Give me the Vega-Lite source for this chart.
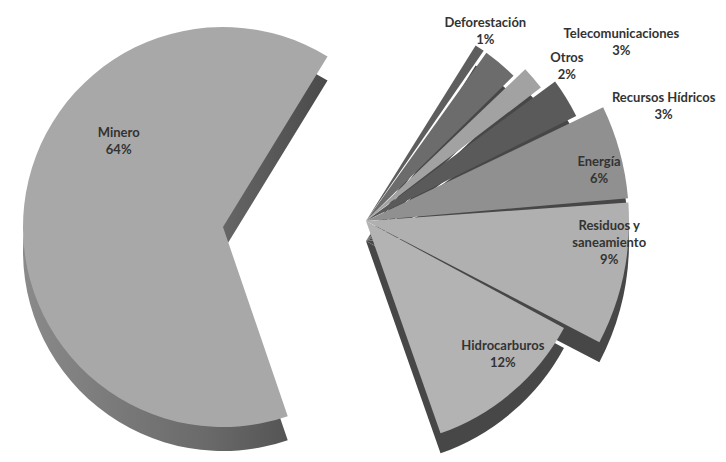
{
  "$schema": "https://vega.github.io/schema/vega-lite/v6.json",
  "width": 726,
  "height": 462,
  "autosize": {"type": "fit", "contains": "padding"},
  "padding": 0,
  "background": "white",
  "config": {
    "view": {"stroke": null},
    "text": {"font": "Lato", "fontWeight": "bold", "fontSize": 13, "color": "#333333", "lineBreak": "|", "lineHeight": 17}
  },
  "data": {
    "values": [
      {"sector": "Deforestación", "valor": 1, "orden": 1},
      {"sector": "Telecomunicaciones", "valor": 3, "orden": 2},
      {"sector": "Otros", "valor": 2, "orden": 3},
      {"sector": "Recursos Hídricos", "valor": 3, "orden": 4},
      {"sector": "Energía", "valor": 6, "orden": 5},
      {"sector": "Residuos y saneamiento", "valor": 9, "orden": 6},
      {"sector": "Hidrocarburos", "valor": 12, "orden": 7},
      {"sector": "Minero", "valor": 64, "orden": 8}
    ]
  },
  "transform": [
    {"calculate": "replace(datum.sector, ' y ', ' y|') + '|' + datum.valor + '%'", "as": "etiqueta"}
  ],
  "encoding": {
    "theta": {"field": "valor", "type": "quantitative", "stack": true, "scale": {"range": [0.55, 6.8332]}},
    "order": {"field": "orden", "type": "quantitative"}
  },
  "layer": [
    {
      "mark": {
        "type": "arc", "outerRadius": 200, "xOffset": -131, "yOffset": 24,
        "color": {"gradient": "linear", "x1": 0, "x2": 1, "y1": 0, "y2": 0, "stops": [{"offset": 0, "color": "#8a8a8a"}, {"offset": 0.6, "color": "#6a6a6a"}, {"offset": 1, "color": "#4a4a4a"}]}
      },
      "encoding": {"opacity": {"condition": {"test": "datum.sector === 'Minero'", "value": 1}, "value": 0}}
    },
    {
      "mark": {"type": "arc", "outerRadius": 207, "xOffset": 12, "yOffset": 14, "padAngle": 0.016, "color": "#474747"},
      "encoding": {"opacity": {"condition": {"test": "indexof(['Deforestación', 'Telecomunicaciones'], datum.sector) >= 0", "value": 1}, "value": 0}}
    },
    {
      "mark": {"type": "arc", "outerRadius": 220, "xOffset": 12, "yOffset": 14, "padAngle": 0.016, "color": "#474747"},
      "encoding": {"opacity": {"condition": {"test": "datum.sector === 'Otros'", "value": 1}, "value": 0}}
    },
    {
      "mark": {"type": "arc", "outerRadius": 235, "xOffset": 12, "yOffset": 14, "padAngle": 0.016, "color": "#474747"},
      "encoding": {"opacity": {"condition": {"test": "datum.sector === 'Recursos Hídricos'", "value": 1}, "value": 0}}
    },
    {
      "mark": {"type": "arc", "outerRadius": 263, "xOffset": 12, "yOffset": 14, "padAngle": 0.016, "color": "#474747"},
      "encoding": {"opacity": {"condition": {"test": "indexof(['Energía', 'Residuos y saneamiento'], datum.sector) >= 0", "value": 1}, "value": 0}}
    },
    {
      "mark": {"type": "arc", "outerRadius": 225, "xOffset": 12, "yOffset": 14, "padAngle": 0.016, "color": "#474747"},
      "encoding": {"opacity": {"condition": {"test": "datum.sector === 'Hidrocarburos'", "value": 1}, "value": 0}}
    },
    {
      "mark": {"type": "arc", "outerRadius": 200, "xOffset": -131},
      "encoding": {
        "color": {
          "field": "sector", "type": "nominal", "legend": null,
          "scale": {
            "domain": ["Deforestación", "Telecomunicaciones", "Otros", "Recursos Hídricos", "Energía", "Residuos y saneamiento", "Hidrocarburos", "Minero"],
            "range": ["#5e5e5e", "#6c6c6c", "#a2a2a2", "#5a5a5a", "#909090", "#b0b0b0", "#b3b3b3", "#a8a8a8"]
          }
        },
        "opacity": {"condition": {"test": "datum.sector === 'Minero'", "value": 1}, "value": 0}
      }
    },
    {
      "mark": {"type": "arc", "outerRadius": 207, "xOffset": 12, "yOffset": -6, "padAngle": 0.016},
      "encoding": {
        "color": {"field": "sector", "type": "nominal", "legend": null},
        "opacity": {"condition": {"test": "indexof(['Deforestación', 'Telecomunicaciones'], datum.sector) >= 0", "value": 1}, "value": 0}
      }
    },
    {
      "mark": {"type": "arc", "outerRadius": 220, "xOffset": 12, "yOffset": -6, "padAngle": 0.016},
      "encoding": {
        "color": {"field": "sector", "type": "nominal", "legend": null},
        "opacity": {"condition": {"test": "datum.sector === 'Otros'", "value": 1}, "value": 0}
      }
    },
    {
      "mark": {"type": "arc", "outerRadius": 235, "xOffset": 12, "yOffset": -6, "padAngle": 0.016},
      "encoding": {
        "color": {"field": "sector", "type": "nominal", "legend": null},
        "opacity": {"condition": {"test": "datum.sector === 'Recursos Hídricos'", "value": 1}, "value": 0}
      }
    },
    {
      "mark": {"type": "arc", "outerRadius": 263, "xOffset": 12, "yOffset": -6, "padAngle": 0.016},
      "encoding": {
        "color": {"field": "sector", "type": "nominal", "legend": null},
        "opacity": {"condition": {"test": "indexof(['Energía', 'Residuos y saneamiento'], datum.sector) >= 0", "value": 1}, "value": 0}
      }
    },
    {
      "mark": {"type": "arc", "outerRadius": 225, "xOffset": 12, "yOffset": -6, "padAngle": 0.016},
      "encoding": {
        "color": {"field": "sector", "type": "nominal", "legend": null},
        "opacity": {"condition": {"test": "datum.sector === 'Hidrocarburos'", "value": 1}, "value": 0}
      }
    },
    {
      "mark": {"type": "text", "radius": 110, "xOffset": -131, "dx": 5, "dy": -82},
      "encoding": {
        "text": {"field": "etiqueta"},
        "opacity": {"condition": {"test": "datum.sector === 'Minero'", "value": 1}, "value": 0}
      }
    },
    {
      "mark": {"type": "text", "radius": 225, "xOffset": 12, "yOffset": -6, "dx": 16, "dy": 0},
      "encoding": {
        "text": {"field": "etiqueta"},
        "opacity": {"condition": {"test": "datum.sector === 'Energía'", "value": 1}, "value": 0}
      }
    },
    {
      "mark": {"type": "text", "radius": 230, "xOffset": 12, "yOffset": -6, "dx": 18, "dy": -42},
      "encoding": {
        "text": {"field": "etiqueta"},
        "opacity": {"condition": {"test": "datum.sector === 'Residuos y saneamiento'", "value": 1}, "value": 0}
      }
    },
    {
      "mark": {"type": "text", "radius": 180, "xOffset": 12, "yOffset": -6, "dx": 20, "dy": -12},
      "encoding": {
        "text": {"field": "etiqueta"},
        "opacity": {"condition": {"test": "datum.sector === 'Hidrocarburos'", "value": 1}, "value": 0}
      }
    },
    {
      "mark": {"type": "text", "radius": 230, "xOffset": 12, "yOffset": -6, "dx": -7, "dy": -6},
      "encoding": {
        "text": {"field": "etiqueta"},
        "opacity": {"condition": {"test": "datum.sector === 'Deforestación'", "value": 1}, "value": 0}
      }
    },
    {
      "mark": {"type": "text", "radius": 230, "xOffset": 12, "yOffset": -6, "dx": 106, "dy": -12},
      "encoding": {
        "text": {"field": "etiqueta"},
        "opacity": {"condition": {"test": "datum.sector === 'Telecomunicaciones'", "value": 1}, "value": 0}
      }
    },
    {
      "mark": {"type": "text", "radius": 230, "xOffset": 12, "yOffset": -6, "dx": 26, "dy": -14},
      "encoding": {
        "text": {"field": "etiqueta"},
        "opacity": {"condition": {"test": "datum.sector === 'Otros'", "value": 1}, "value": 0}
      }
    },
    {
      "mark": {"type": "text", "radius": 240, "xOffset": 12, "yOffset": -6, "dx": 93, "dy": 2},
      "encoding": {
        "text": {"field": "etiqueta"},
        "opacity": {"condition": {"test": "datum.sector === 'Recursos Hídricos'", "value": 1}, "value": 0}
      }
    }
  ]
}
